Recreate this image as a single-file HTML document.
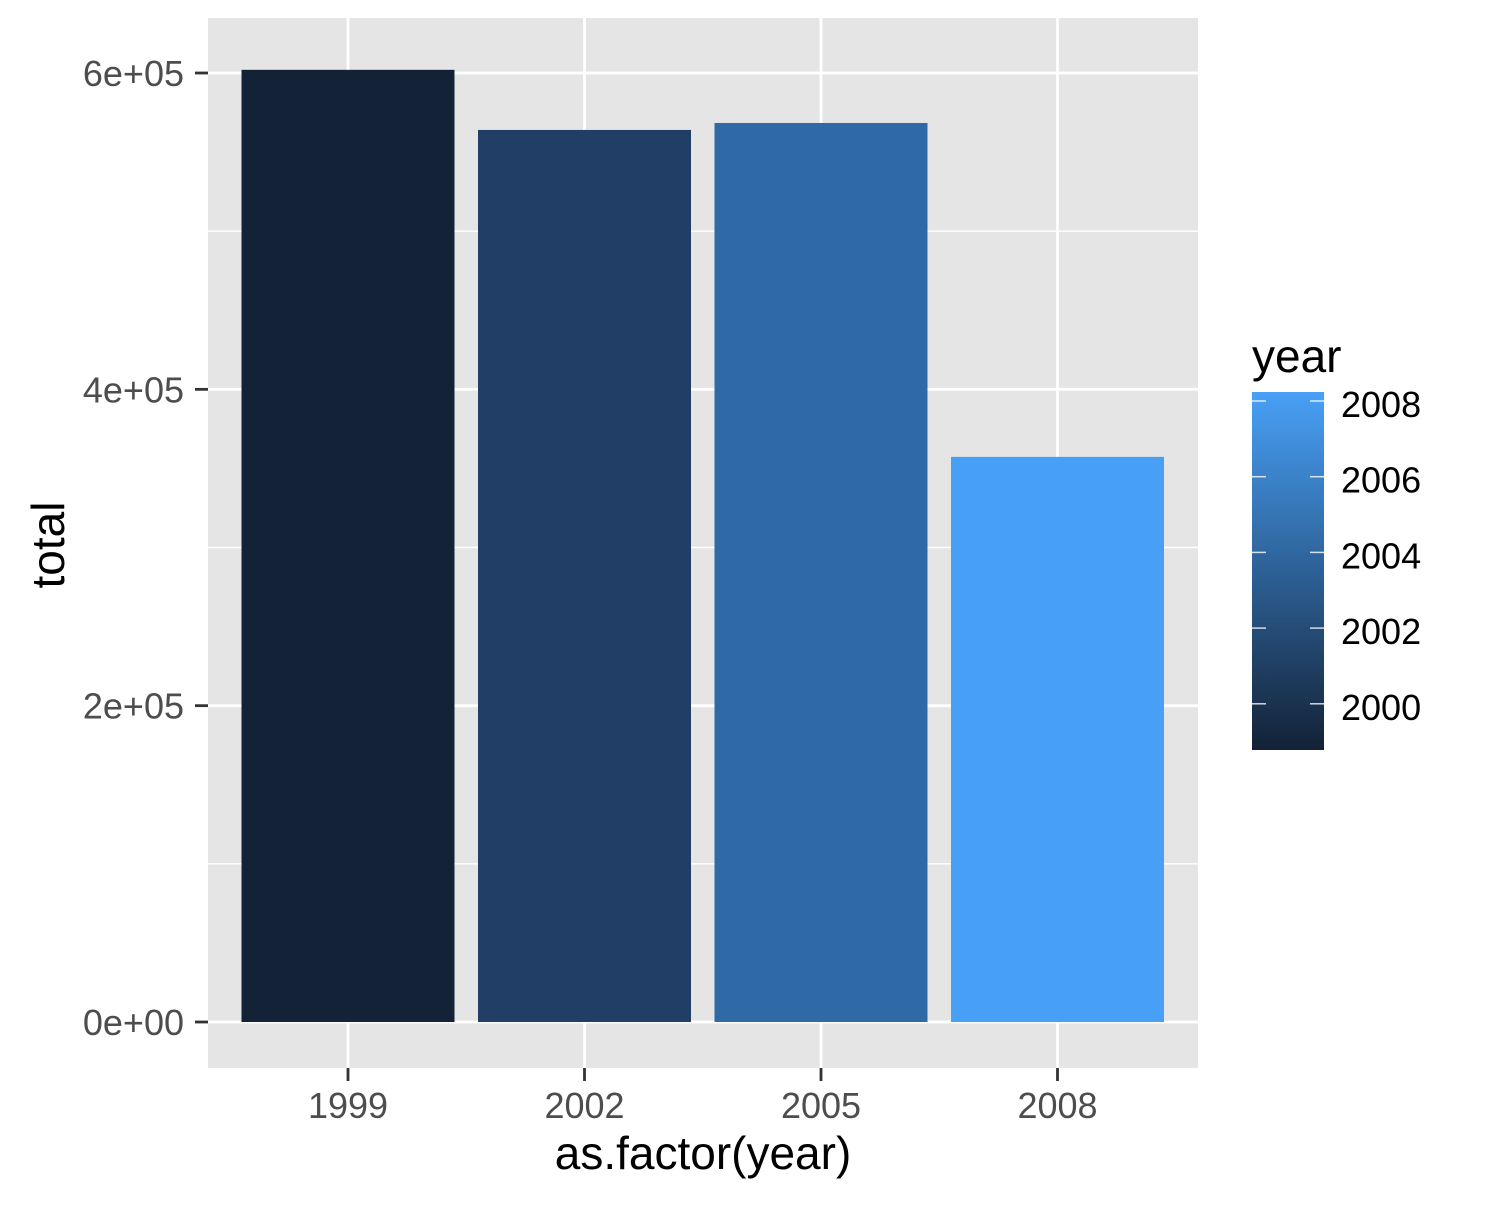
<!DOCTYPE html>
<html><head><meta charset="utf-8"><style>
html,body{margin:0;padding:0;background:#fff;}
svg text{font-family:"Liberation Sans",Arial,sans-serif;}
</style></head><body>
<svg id="chart" width="1500" height="1200" xmlns="http://www.w3.org/2000/svg">
<defs><linearGradient id="grad" x1="0" y1="1" x2="0" y2="0">
<stop offset="0" stop-color="#132236"/><stop offset="1" stop-color="#48A0F6"/></linearGradient></defs>
<rect x="208" y="18" width="990" height="1050" fill="#E5E5E5"/>
<g id="grid"></g><g id="bars"></g><g id="axes"></g>
<text x="703" y="1169" font-size="46" text-anchor="middle" fill="#000">as.factor(year)</text>
<text transform="translate(64,545) rotate(-90)" font-size="46" text-anchor="middle" fill="#000">total</text>
<g>
<text x="1252" y="372" font-size="46" fill="#000">year</text>
<rect x="1252" y="392" width="72" height="358" fill="url(#grad)"/>
<g id="legticks"></g>
</g>
</svg>
<script>
const categories = ["1999","2002","2005","2008"];
const totals = [602000, 564000, 568400, 357300];
const barColors = ["#132236","#213F66","#306AA6","#48A0F6"];
const yTicks = [0, 200000, 400000, 600000];
const yTickLabels = ["0e+00","2e+05","4e+05","6e+05"];
const legendYears = [2000, 2002, 2004, 2006, 2008];

const NS = "http://www.w3.org/2000/svg";
function mk(tag, attrs, parent){const e=document.createElementNS(NS,tag);for(const k in attrs)e.setAttribute(k,attrs[k]);parent.appendChild(e);return e;}
const y = v => 1022 - v/600000*949;
const step = 236.5;
const x = i => 348 + i*step;
const bw = 213;
const grid=document.getElementById('grid'), bars=document.getElementById('bars'), axes=document.getElementById('axes');
for(let i=0;i<yTicks.length-1;i++){
  const yy=y((yTicks[i]+yTicks[i+1])/2);
  const l=mk('line',{x1:208,x2:1198,y1:yy,y2:yy,stroke:'#fff','stroke-width':1.4},grid);
  
  
}
yTicks.forEach((v,i)=>{
  const yy=y(v);
  const l=mk('line',{x1:208,x2:1198,y1:yy,y2:yy,stroke:'#fff','stroke-width':2.8},grid);
  
  
  const t=mk('line',{x1:195,x2:208,y1:yy,y2:yy,stroke:'#333','stroke-width':2.8},axes);
  
  
  const tx=mk('text',{x:184,y:yy+13,'font-size':36,'text-anchor':'end',fill:'#4D4D4D'},axes);
  tx.textContent=yTickLabels[i];
  
  
});
categories.forEach((c,i)=>{
  const xx=x(i);
  const g=mk('line',{x1:xx,x2:xx,y1:18,y2:1068,stroke:'#fff','stroke-width':2.8},grid);
  
  
  const r=mk('rect',{x:xx-bw/2,y:y(totals[i]),width:bw,height:y(0)-y(totals[i]),fill:barColors[i]},bars);
  
  
  const t=mk('line',{x1:xx,x2:xx,y1:1068,y2:1081,stroke:'#333','stroke-width':2.8},axes);
  
  
  const tx=mk('text',{x:xx,y:1118,'font-size':36,'text-anchor':'middle',fill:'#4D4D4D'},axes);
  tx.textContent=c;
  
  
});
const lt=document.getElementById('legticks');
const ly = yr => 401 + (2008-yr)*37.85;
legendYears.forEach(yr=>{
  const yy=ly(yr);
  const a=mk('line',{x1:1252,x2:1266,y1:yy,y2:yy,stroke:'#fff','stroke-width':1.5,opacity:0.8},lt);
  
  
  const b=mk('line',{x1:1310,x2:1324,y1:yy,y2:yy,stroke:'#fff','stroke-width':1.5,opacity:0.8},lt);
  
  
  const t=mk('text',{x:1341,y:yy+16,'font-size':36,fill:'#000'},lt);
  t.textContent=yr;
  
  
});
</script>
</body></html>
